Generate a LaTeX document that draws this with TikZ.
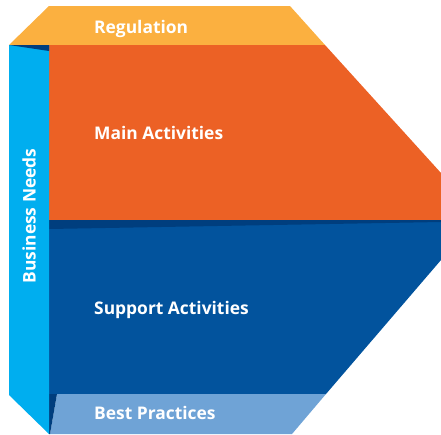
\documentclass[tikz,border=0pt]{standalone}
\usepackage{fontspec}
\setmainfont{Open Sans}
\usepackage{tikz}
\definecolor{regcol}{HTML}{FBB040}
\definecolor{maincol}{HTML}{EC6125}
\definecolor{suppcol}{HTML}{02539D}
\definecolor{bestcol}{HTML}{6FA3D6}
\definecolor{needcol}{HTML}{00AEEF}
\definecolor{shadecol}{HTML}{003E7E}
\tikzset{
  label text/.style={text=white, font=\bfseries\fontsize{17.4}{19}\selectfont, inner sep=0pt, anchor=base west}
}
\begin{document}
\begin{tikzpicture}[x=1pt, y=-1pt]
\useasboundingbox (0,0) rectangle (441,434);

% Top face (Regulation)
\fill[regcol] (49,6) -- (290,6) -- (325,45) -- (9,45) -- cycle;
\node[label text] (reg) at (94,33) {Regulation};

% Main activities
\fill[maincol] (49,45) -- (325,45) -- (441,173) -- (441,220) -- (49,220) -- cycle;
\node[label text] (main) at (94,139) {Main Activities};

% Support activities
\fill[suppcol] (49,220) -- (441,220) -- (441,260) -- (326,394) -- (49,394) -- cycle;
\fill[shadecol] (49,220) -- (441,220) -- (441,222) -- (49,229) -- cycle;
\node[label text] (supp) at (94,314) {Support Activities};

% Bottom face (Best practices)
\fill[bestcol] (57,394) -- (326,394) -- (292,434) -- (50,434) -- cycle;
\fill[shadecol] (49,394) -- (57,394) -- (50,434) -- (49,434) -- cycle;
\node[label text] (best) at (94,419) {Best Practices};

% Side face (Business needs)
\fill[needcol] (9,45) -- (49,45) -- (49,434) -- (9,395) -- cycle;
\fill[shadecol] (9,45) -- (49,45) -- (49,51) -- cycle;
\node[label text, anchor=center, rotate=90] (needs) at (29,216) {Business Needs};

\end{tikzpicture}
\end{document}
